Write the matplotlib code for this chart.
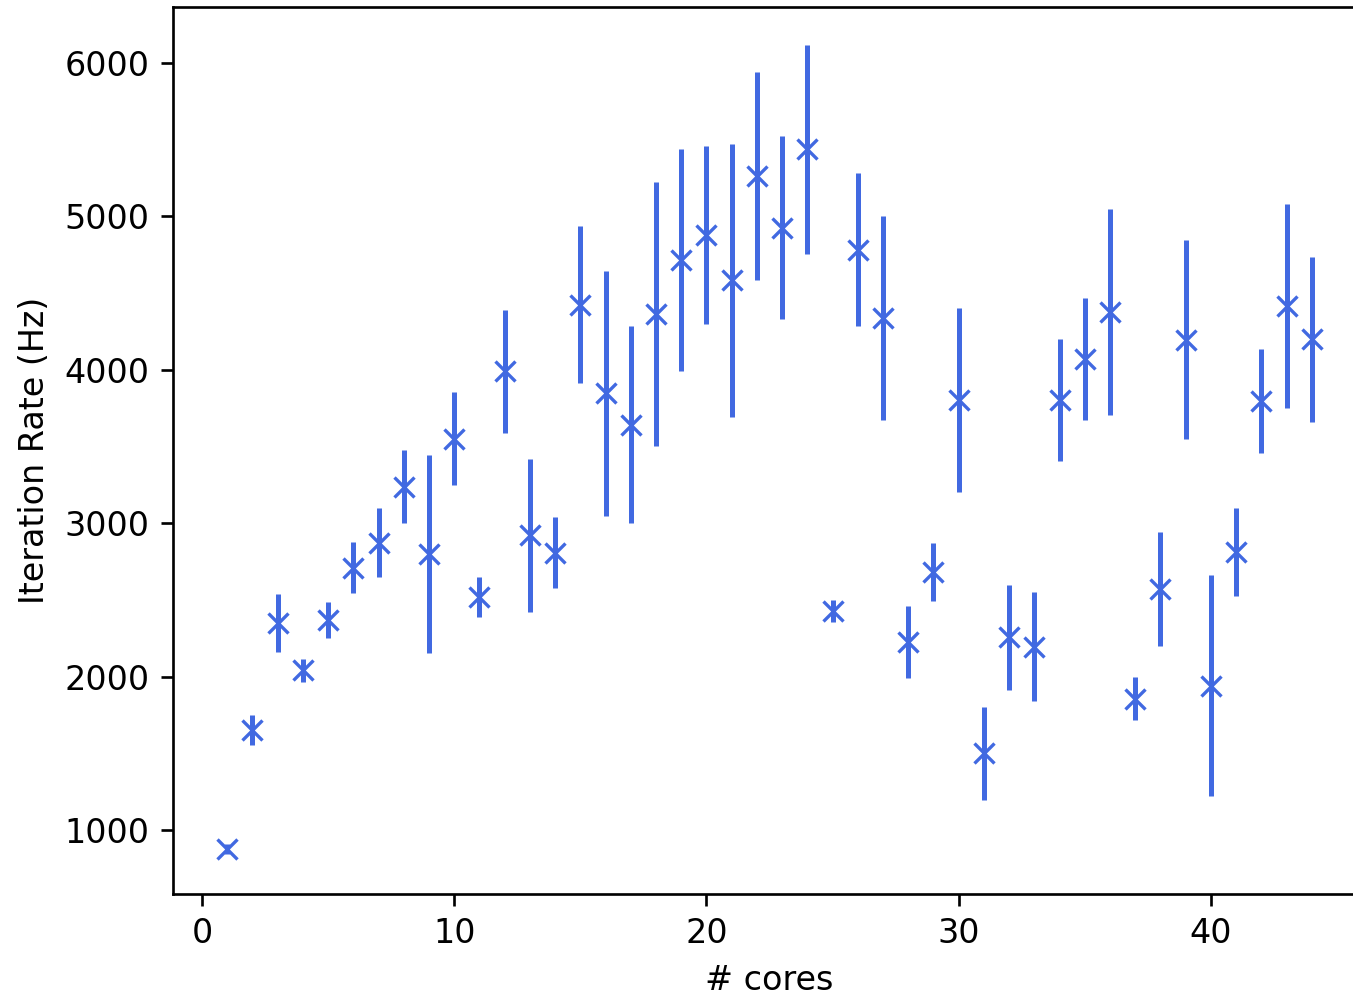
import numpy as np
import matplotlib.pyplot as plt

#%% data

cores = np.arange(1, 45)

rate = [876, 1652, 2349, 2043, 2369, 2711, 2874, 3239, 2800, 3552,
        2518, 3989, 2920, 2809, 4425, 3846, 3643, 4363, 4715, 4879,
        4582, 5263, 4927, 5436, 2427, 4784, 4338, 2225, 2682, 3803,
        1499, 2255, 2196, 3803, 4070, 4376, 1857, 2571, 4197, 1942,
        2812, 3797, 4416, 4198]

err = [30, 100, 189, 75, 117, 166, 225, 238, 645, 303,
       130, 401, 499, 231, 511, 798, 642, 860, 723, 580,
       890, 678, 596, 681, 72, 499, 665, 235, 189, 600,
       303, 342, 355, 398, 397, 671, 140, 372, 648, 720,
       287, 339, 665, 538]

#%% plot

fig = plt.figure(figsize=(1353 / 240, 994 / 240), dpi=240)
ax = fig.add_axes([0.1279, 0.1006, 0.8817, 0.8924])

ax.errorbar(cores, rate, yerr=err, fmt="x", color="royalblue")

ax.set_xlim(-1.15, 46.15)
ax.set_ylim(583, 6365)
ax.set_xticks([0, 10, 20, 30, 40])
ax.set_yticks([1000, 2000, 3000, 4000, 5000, 6000])
ax.set_xlabel("# cores")
ax.set_ylabel("Iteration Rate (Hz)")

fig.savefig("out.png", dpi=240)
